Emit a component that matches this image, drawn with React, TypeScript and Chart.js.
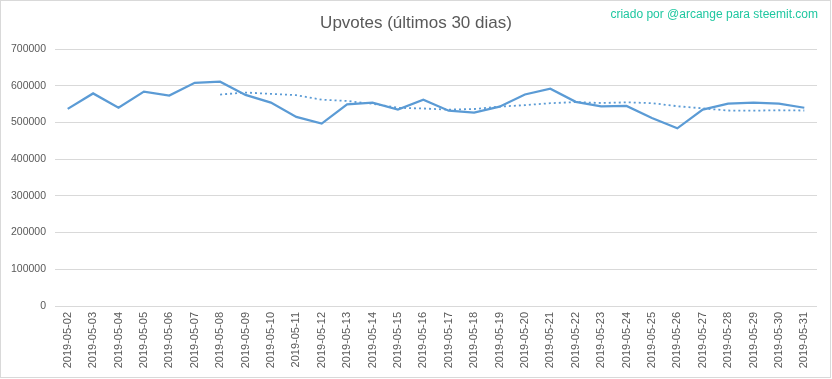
import React, { useEffect, useRef } from "react";
import { Chart, registerables } from "chart.js";

Chart.register(...registerables);

const titleText = "Upvotes (últimos 30 dias)";
const creditText = "criado por @arcange para steemit.com";

const categories = [
  "2019-05-02", "2019-05-03", "2019-05-04", "2019-05-05", "2019-05-06",
  "2019-05-07", "2019-05-08", "2019-05-09", "2019-05-10", "2019-05-11",
  "2019-05-12", "2019-05-13", "2019-05-14", "2019-05-15", "2019-05-16",
  "2019-05-17", "2019-05-18", "2019-05-19", "2019-05-20", "2019-05-21",
  "2019-05-22", "2019-05-23", "2019-05-24", "2019-05-25", "2019-05-26",
  "2019-05-27", "2019-05-28", "2019-05-29", "2019-05-30", "2019-05-31",
];

const upvotes = [
  537000, 579000, 540000, 584000, 573000, 608000, 611000, 575000, 554000, 515000,
  497000, 549000, 554000, 535000, 562000, 532000, 527000, 543000, 576000, 592000,
  556000, 544000, 545000, 512000, 484000, 535000, 551000, 554000, 551000, 540000,
];

// Excel-style moving-average trendline (period 7) derived from the series
const trendPeriod = 7;

const yTicks = { min: 0, max: 700000, step: 100000 };

function movingAverage(values: number[], period: number): (number | null)[] {
  return values.map((_, i) => {
    if (i < period - 1) return null;
    let s = 0;
    for (let k = i - period + 1; k <= i; k++) s += values[k];
    return s / period;
  });
}

const decorPlugin = {
  id: "decor",
  beforeDraw(chart: any) {
    const { ctx, width, height } = chart;
    ctx.save();
    ctx.fillStyle = "#ffffff";
    ctx.fillRect(0, 0, width, height);
    ctx.restore();
  },
  afterDraw(chart: any) {
    const { ctx } = chart;
    ctx.save();
    ctx.fillStyle = "#595959";
    ctx.font = "17px 'Liberation Sans', Arial, sans-serif";
    ctx.textAlign = "center";
    ctx.textBaseline = "middle";
    ctx.fillText(titleText, 416, 23);

    ctx.fillStyle = "#1fc7a0";
    ctx.font = "12px 'Liberation Sans', Arial, sans-serif";
    ctx.textAlign = "right";
    ctx.fillText(creditText, 818, 15);

    ctx.strokeStyle = "#d9d9d9";
    ctx.lineWidth = 1;
    ctx.strokeRect(0.5, 0.5, 830, 377);
    ctx.restore();
  },
};

export default function App() {
  const ref = useRef<HTMLCanvasElement | null>(null);

  useEffect(() => {
    document.body.style.margin = "0";
    const canvas = ref.current;
    if (!canvas) return;
    const chart = new Chart(canvas, {
      type: "line",
      data: {
        labels: categories,
        datasets: [
          {
            label: "Upvotes",
            data: upvotes,
            borderColor: "#5b9bd5",
            borderWidth: 2.25,
            pointRadius: 0,
            tension: 0,
            fill: false,
          },
          {
            label: "Média móvel",
            data: movingAverage(upvotes, trendPeriod),
            borderColor: "#5b9bd5",
            borderWidth: 1.8,
            borderDash: [2, 3],
            pointRadius: 0,
            tension: 0,
            fill: false,
            spanGaps: false,
          },
        ],
      },
      options: {
        responsive: false,
        animation: false,
        devicePixelRatio: 1,
        layout: { padding: { left: 0, top: 49, right: 15, bottom: 0 } },
        plugins: {
          legend: { display: false },
          title: { display: false },
          tooltip: { enabled: false },
        },
        scales: {
          x: {
            type: "category",
            offset: true,
            grid: { display: false, drawTicks: false },
            border: { display: false },
            ticks: {
              minRotation: 90,
              maxRotation: 90,
              autoSkip: false,
              padding: 6,
              color: "#595959",
              font: { family: "'Liberation Sans', Arial, sans-serif", size: 11 },
            },
            afterFit(scale: any) {
              scale.height = 73;
            },
          },
          y: {
            min: yTicks.min,
            max: yTicks.max,
            grid: { color: "#d9d9d9", lineWidth: 1, drawTicks: false },
            border: { display: false },
            ticks: {
              stepSize: yTicks.step,
              padding: 9,
              color: "#595959",
              font: { family: "'Liberation Sans', Arial, sans-serif", size: 10.5 },
              callback: (v: any) => String(v),
            },
            afterFit(scale: any) {
              scale.width = 55;
            },
          },
        },
      },
      plugins: [decorPlugin],
    });
    return () => chart.destroy();
  }, []);

  return (
    <div style={{ position: "absolute", left: 0, top: 0, width: 832, height: 379 }}>
      <canvas ref={ref} width={832} height={379} style={{ display: "block" }} />
    </div>
  );
}
